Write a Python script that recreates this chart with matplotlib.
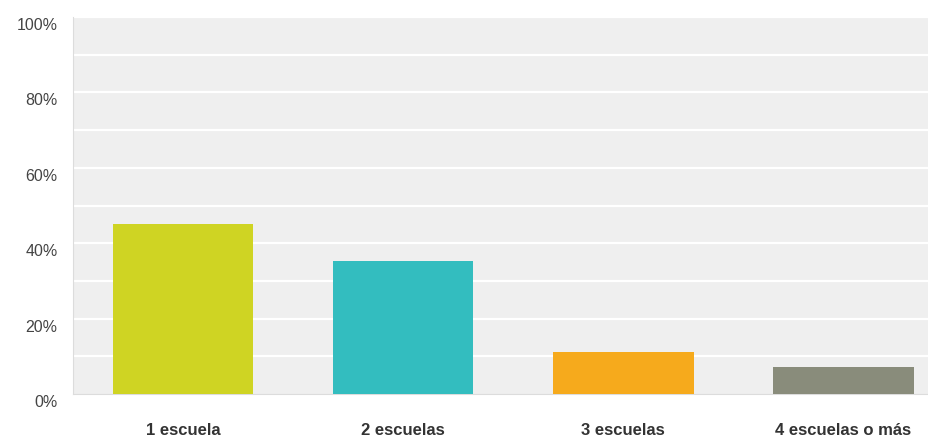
import matplotlib.pyplot as plt
import matplotlib.transforms as mtransforms

# data
categories = ["1 escuela", "2 escuelas", "3 escuelas", "4 escuelas o más"]
values = [45.1, 35.3, 11.1, 7.2]
colors = ["#cfd423", "#33bdbf", "#f6aa1c", "#898c7b"]
tick_vals = [0, 20, 40, 60, 80, 100]
tick_labels = ["0%", "20%", "40%", "60%", "80%", "100%"]

plt.rcParams['font.family'] = ['Liberation Sans', 'DejaVu Sans']

fig = plt.figure(figsize=(9.29, 4.39), dpi=100)
ax = fig.add_axes([73 / 929, 1 - 395 / 439, (929 - 73) / 929, 377 / 439])
ax.set_facecolor("#efefef")

x = list(range(len(categories)))
ax.bar(x, values, width=0.64, color=colors, zorder=3)

# white gridlines every 10%
for g in range(10, 101, 10):
    ax.axhline(g, color="white", linewidth=1.6, zorder=1)

ax.set_xlim(-0.5, 3.39)
ax.set_ylim(0, 100)
ax.set_yticks(tick_vals)
ax.set_yticklabels(tick_labels, fontsize=11.5, color="#444444")
ax.set_xticks(x)
ax.set_xticklabels(categories, fontsize=12, fontweight="bold", color="#333333")
ax.tick_params(axis="both", length=0)
ax.tick_params(axis="x", pad=20)
ax.tick_params(axis="y", pad=11)

# y labels sit a little below their gridlines in the original
offset = mtransforms.ScaledTranslation(0, -6 / 100, fig.dpi_scale_trans)
for lab in ax.get_yticklabels():
    lab.set_transform(lab.get_transform() + offset)

for side in ["top", "right"]:
    ax.spines[side].set_visible(False)
ax.spines["left"].set_color("#dcdcdc")
ax.spines["bottom"].set_color("#dcdcdc")

fig.savefig("out.png", dpi=100)
